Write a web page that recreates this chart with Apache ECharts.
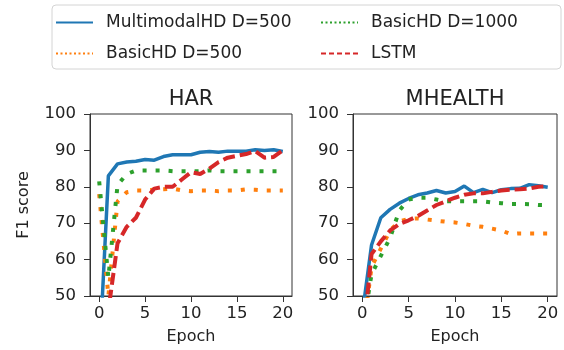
<!DOCTYPE html>
<html>
<head>
<meta charset="utf-8">
<script src="https://cdn.jsdelivr.net/npm/echarts@6/dist/echarts.min.js"></script>
<style>
  html, body { margin: 0; background: #fff; }
  #chart { width: 564px; height: 350px; }
</style>
</head>
<body>
<div id="chart"></div>
<script>
// epochs shared by every series
const epochs = [0, 1, 2, 3, 4, 5, 6, 7, 8, 9, 10, 11, 12, 13, 14, 15, 16, 17, 18, 19, 20];
const xTicks = [0, 5, 10, 15, 20];

// HAR
const harMulti = [32, 83, 86.3, 86.8, 87, 87.5, 87.3, 88.3, 88.8, 88.8, 88.8, 89.5, 89.7, 89.5, 89.8, 89.8, 89.8, 90.2, 90, 90.2, 89.7];
const harBasic500 = [78, 50, 76, 78.5, 79, 79, 79.2, 79.3, 79.5, 79, 78.8, 79, 79, 78.8, 79, 79, 79.3, 79.2, 79, 79, 79];
const harBasic1000 = [81.5, 55, 80.5, 83.5, 84.5, 84.5, 84.5, 84.5, 84.3, 84.3, 84.3, 84.3, 84.5, 84.3, 84.3, 84.3, 84.3, 84.3, 84.3, 84.3, 84.3];
const harLstm = [30, 46, 64.5, 69, 71.5, 76.5, 79.5, 80, 80, 82, 84, 83.5, 85, 86.8, 88, 88.5, 89, 89.8, 88, 88.2, 90];

// MHEALTH
const mhMulti = [45, 64, 71.5, 73.8, 75.5, 76.8, 77.8, 78.3, 79, 78.3, 78.7, 80.2, 78.4, 79.3, 78.4, 79.2, 79.5, 79.6, 80.6, 80.3, 79.9];
const mhBasic500 = [38, 58, 63, 68, 70.5, 71.2, 71.3, 71, 70.7, 70.4, 70.2, 69.8, 69.3, 69, 68.5, 68, 67, 67.2, 67.2, 67.2, 67.2];
const mhBasic1000 = [40, 56, 61, 66, 73.5, 76.5, 77, 77, 76.5, 76, 76, 76, 76, 76, 75.7, 75.5, 75.3, 75.3, 75.2, 75, 75];
const mhLstm = [36.5, 61.5, 65, 68, 69.8, 70.8, 72, 73.5, 75, 76, 77, 77.8, 78.2, 78.2, 78.6, 79, 79.2, 79.3, 79.5, 80, 80.2];

const NAMES = ['MultimodalHD D=500', 'BasicHD D=500', 'BasicHD D=1000', 'LSTM'];
const COLORS = ['#1f77b4', '#ff7f0e', '#2ca02c', '#d62728'];
const LINE_TYPES = ['solid', [4, 9], [4, 9], [12, 5]];
const FONT = 'DejaVu Sans';
const TEXT = '#222';

const pairs = vals => epochs.map((e, i) => [e, vals[i]]);

function makeSeries(gridIndex, lists) {
  return lists.map((vals, i) => ({
    name: NAMES[i],
    type: 'line',
    xAxisIndex: gridIndex,
    yAxisIndex: gridIndex,
    symbol: 'none',
    clip: true,
    data: pairs(vals),
    lineStyle: { color: COLORS[i], width: i === 0 ? 3.5 : 4, type: LINE_TYPES[i] },
    itemStyle: { color: COLORS[i] }
  }));
}

function xAxis(gridIndex) {
  return {
    gridIndex,
    type: 'value',
    min: -1,
    max: 21,
    name: 'Epoch',
    nameLocation: 'middle',
    nameGap: 33,
    nameTextStyle: { fontFamily: FONT, fontSize: 16, color: TEXT },
    axisLine: { onZero: false, lineStyle: { color: '#333' } },
    axisTick: { customValues: xTicks, length: 6, lineStyle: { color: '#333' } },
    axisLabel: { customValues: xTicks, fontFamily: FONT, fontSize: 16.5, color: TEXT, margin: 9 },
    splitLine: { show: false }
  };
}

function yAxis(gridIndex) {
  return {
    gridIndex,
    type: 'value',
    min: 50,
    max: 100,
    interval: 10,
    name: gridIndex === 0 ? 'F1 score' : '',
    nameLocation: 'middle',
    nameGap: 58,
    nameTextStyle: { fontFamily: FONT, fontSize: 16, color: TEXT },
    axisLine: { show: true, onZero: false, lineStyle: { color: '#333' } },
    axisTick: { show: true, length: 6, lineStyle: { color: '#333' } },
    axisLabel: { fontFamily: FONT, fontSize: 16.5, color: TEXT, margin: 14 },
    splitLine: { show: false }
  };
}

function legendItem(i) {
  return {
    name: NAMES[i],
    itemStyle: { opacity: 0 },
    lineStyle: { width: 2, type: i === 0 ? 'solid' : (i === 3 ? [5, 3] : [2, 2.5]) }
  };
}

const legendBase = {
  orient: 'vertical',
  top: 14,
  padding: 0,
  itemWidth: 37,
  itemHeight: 14,
  itemGap: 14,
  textStyle: { fontFamily: FONT, fontSize: 17, color: TEXT, padding: [0, 0, 0, 8] }
};

const chart = echarts.init(document.getElementById('chart'));
chart.setOption({
  animation: false,
  backgroundColor: '#fff',
  grid: [
    { left: 90, top: 114, width: 202, height: 183, show: true, borderColor: '#333', borderWidth: 1 },
    { left: 353, top: 114, width: 204, height: 183, show: true, borderColor: '#333', borderWidth: 1 }
  ],
  legend: [
    Object.assign({ left: 55, data: [legendItem(0), legendItem(1)] }, legendBase),
    Object.assign({ left: 320, data: [legendItem(2), legendItem(3)] }, legendBase)
  ],
  graphic: [
    { type: 'rect', z: -1, shape: { x: 52, y: 5, width: 509, height: 64, r: 4 }, style: { fill: 'none', stroke: '#d4d4d4', lineWidth: 1 } },
    { type: 'text', x: 191, y: 100, style: { text: 'HAR', font: '21px "DejaVu Sans"', fill: TEXT, align: 'center', verticalAlign: 'middle' } },
    { type: 'text', x: 455, y: 100, style: { text: 'MHEALTH', font: '21px "DejaVu Sans"', fill: TEXT, align: 'center', verticalAlign: 'middle' } }
  ],
  xAxis: [xAxis(0), xAxis(1)],
  yAxis: [yAxis(0), yAxis(1)],
  series: makeSeries(0, [harMulti, harBasic500, harBasic1000, harLstm])
    .concat(makeSeries(1, [mhMulti, mhBasic500, mhBasic1000, mhLstm]))
});
</script>
</body>
</html>
